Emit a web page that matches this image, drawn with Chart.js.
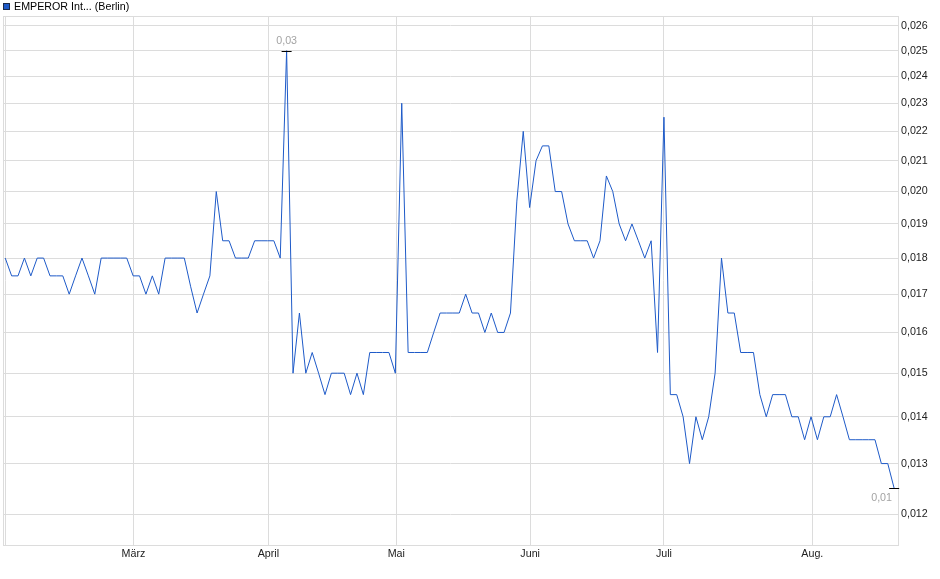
<!DOCTYPE html>
<html lang="de">
<head>
    <meta charset="UTF-8">
    <title>EMPEROR Int... (Berlin)</title>
    <style>
        *{
            margin:0;
            padding:0;
        }
        body{
            background: #fff;
            font-family: "Liberation Sans", Arial, sans-serif;
        }
        .wrap{
            position: relative;
            width: 940px;
            height: 579px;
        }
        .legend{
            position: absolute;
            left: 3px;
            top: 0px;
            font-size: 10.7px;
            line-height: 13px;
            color: #000;
            display: flex;
            align-items: center;
        }
        .legend .box{
            width: 5px;
            height: 5px;
            background: #1e5ac8;
            border: 1px solid #1b2a4a;
            margin-right: 4px;
        }
    </style>
</head>
<body>
    <div class="wrap">
        <canvas id="priceChart"></canvas>
        <div class="legend"><span class="box"></span><span>EMPEROR Int... (Berlin)</span></div>
    </div>
    <script src="https://cdn.jsdelivr.net/npm/chart.js@4.4.0/dist/chart.umd.min.js"></script>
    <script>
        // closing prices per trading day, Feb - Aug
        const prices = [
            0.018, 0.0175, 0.0175, 0.018, 0.0175, 0.018, 0.018, 0.0175, 0.0175, 0.0175,
            0.017, 0.0175, 0.018, 0.0175, 0.017, 0.018, 0.018, 0.018, 0.018, 0.018,
            0.0175, 0.0175, 0.017, 0.0175, 0.017, 0.018, 0.018, 0.018, 0.018, 0.0172,
            0.0165, 0.017, 0.0175, 0.020, 0.0185, 0.0185, 0.018, 0.018, 0.018, 0.0185,
            0.0185, 0.0185, 0.0185, 0.018, 0.025, 0.015, 0.0165, 0.015, 0.0155, 0.015,
            0.0145, 0.015, 0.015, 0.015, 0.0145, 0.015, 0.0145, 0.0155, 0.0155, 0.0155,
            0.0155, 0.015, 0.023, 0.0155, 0.0155, 0.0155, 0.0155, 0.016, 0.0165, 0.0165,
            0.0165, 0.0165, 0.017, 0.0165, 0.0165, 0.016, 0.0165, 0.016, 0.016, 0.0165,
            0.0197, 0.022, 0.0195, 0.021, 0.0215, 0.0215, 0.020, 0.020, 0.019, 0.0185,
            0.0185, 0.0185, 0.018, 0.0185, 0.0205, 0.020, 0.019, 0.0185, 0.019, 0.0185,
            0.018, 0.0185, 0.0155, 0.0225, 0.0145, 0.0145, 0.014, 0.013, 0.014, 0.0135,
            0.014, 0.015, 0.018, 0.0165, 0.0165, 0.0155, 0.0155, 0.0155, 0.0145, 0.014,
            0.0145, 0.0145, 0.0145, 0.014, 0.014, 0.0135, 0.014, 0.0135, 0.014, 0.014,
            0.0145, 0.014, 0.0135, 0.0135, 0.0135, 0.0135, 0.0135, 0.013, 0.013, 0.0125
        ];

        // month starts, as position on the trading day axis
        const monthPos = [0, 20.05, 41.14, 61.14, 82.08, 103.0, 126.2];
        const monthLabels = ['', 'März', 'April', 'Mai', 'Juni', 'Juli', 'Aug.'];

        const yTicks = [0.012, 0.013, 0.014, 0.015, 0.016, 0.017, 0.018, 0.019,
                        0.020, 0.021, 0.022, 0.023, 0.024, 0.025, 0.026];

        const gridColor = '#dcdcdc';
        const lineColor = '#1e5ac8';
        const fontFamily = '"Liberation Sans", Arial, sans-serif';

        const fmt = (v, d) => v.toFixed(d).replace('.', ',');

        // frame round the plot area
        const frame = {
            id: 'frame',
            beforeDatasetsDraw(chart){
                const a = chart.chartArea;
                const ctx = chart.ctx;
                ctx.save();
                ctx.strokeStyle = gridColor;
                ctx.lineWidth = 1;
                ctx.strokeRect(Math.floor(a.left) + 0.5, Math.floor(a.top) + 0.5,
                    Math.round(a.right - a.left), Math.round(a.bottom - a.top));
                ctx.restore();
            }
        };

        // high / low marks with rounded value
        const highLow = {
            id: 'highLow',
            afterDatasetsDraw(chart){
                const xs = chart.scales.x, ys = chart.scales.y;
                const a = chart.chartArea;
                const ctx = chart.ctx;
                let hi = 0, lo = 0;
                prices.forEach((v, i) => {
                    if (v > prices[hi]) hi = i;
                    if (v <= prices[lo]) lo = i;
                });
                ctx.save();
                ctx.font = '10.7px ' + fontFamily;
                ctx.strokeStyle = '#000';
                ctx.lineWidth = 1;
                [[hi, -1], [lo, 1]].forEach(([i, dir]) => {
                    const px = xs.getPixelForValue(i);
                    const py = Math.round(ys.getPixelForValue(prices[i])) + 0.5;
                    ctx.beginPath();
                    ctx.moveTo(px - 5, py);
                    ctx.lineTo(px + 5, py);
                    ctx.stroke();
                    const txt = fmt(prices[i], 2);
                    const w = ctx.measureText(txt).width;
                    let cx = px;
                    if (cx + w / 2 > a.right - 6) cx = a.right - 6 - w / 2;
                    ctx.fillStyle = '#a3a3a3';
                    ctx.textAlign = 'center';
                    ctx.textBaseline = 'middle';
                    ctx.fillText(txt, cx, py + dir * 10);
                });
                ctx.restore();
            }
        };

        const ctx = document.getElementById('priceChart').getContext('2d');
        const priceChart = new Chart(ctx, {
            type: 'line',
            data: {
                datasets: [{
                    label: 'EMPEROR Int... (Berlin)',
                    data: prices.map((v, i) => ({x: i, y: v})),
                    borderColor: lineColor,
                    borderWidth: 1,
                    pointRadius: 0,
                    tension: 0,
                    fill: false,
                }]
            },
            options: {
                responsive: true,
                maintainAspectRatio: false,
                animation: false,
                layout: {
                    padding: {left: 3, top: 16, right: 0, bottom: 0}
                },
                plugins: {
                    legend: {display: false},
                    tooltip: {enabled: false},
                },
                scales: {
                    x: {
                        type: 'linear',
                        min: -0.35,
                        max: 139.6,
                        afterBuildTicks(scale){
                            scale.ticks = monthPos.map(v => ({value: v}));
                        },
                        afterFit(scale){
                            scale.height = 34;
                        },
                        grid: {
                            color: gridColor,
                            drawTicks: false,
                        },
                        border: {color: gridColor},
                        ticks: {
                            autoSkip: false,
                            maxRotation: 0,
                            padding: 3,
                            color: '#222',
                            font: {family: fontFamily, size: 10.7},
                            callback: (v, i) => monthLabels[i],
                        },
                    },
                    y: {
                        type: 'logarithmic',
                        position: 'right',
                        min: 0.011427,
                        max: 0.02641,
                        afterBuildTicks(scale){
                            scale.ticks = yTicks.map(v => ({value: v}));
                        },
                        afterFit(scale){
                            scale.width = 42;
                        },
                        grid: {
                            color: gridColor,
                            drawTicks: false,
                        },
                        border: {color: gridColor},
                        ticks: {
                            autoSkip: false,
                            padding: 3,
                            color: '#222',
                            font: {family: fontFamily, size: 10.7},
                            callback: v => fmt(v, 3),
                        },
                    }
                }
            },
            plugins: [frame, highLow]
        });
    </script>
</body>
</html>
